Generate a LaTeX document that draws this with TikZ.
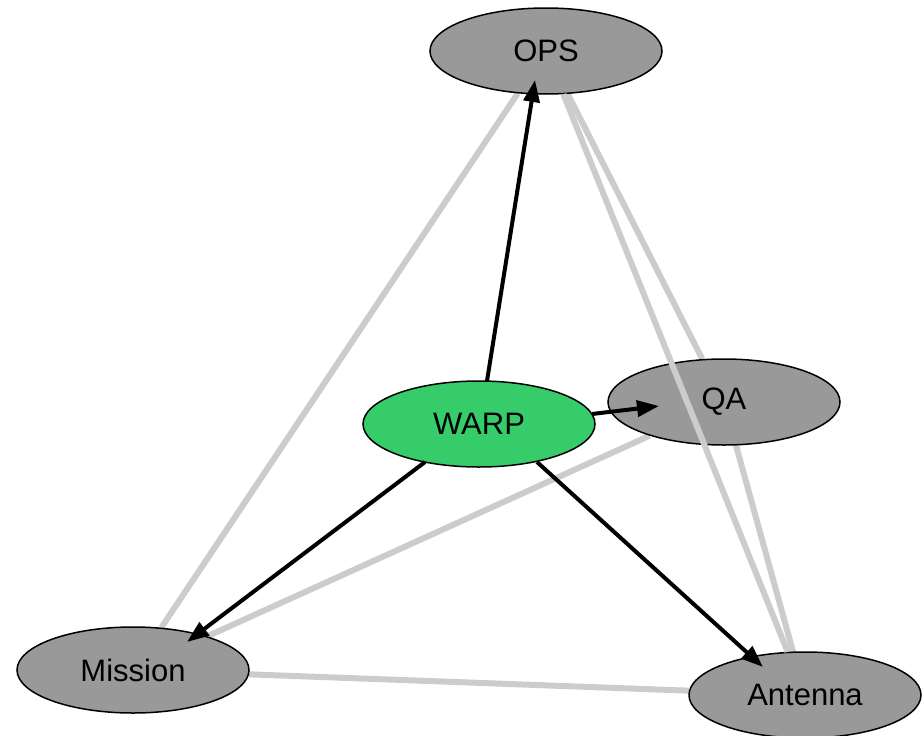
\documentclass[tikz,border=0pt]{standalone}
\usepackage{fontspec}
\setmainfont{Liberation Sans}
\usetikzlibrary{shapes.geometric,arrows.meta}
\pgfdeclarelayer{background}
\pgfsetlayers{background,main}
\definecolor{nodegray}{HTML}{999999}
\definecolor{warpgreen}{HTML}{36CC6A}
\definecolor{edgegray}{HTML}{CCCCCC}
\begin{document}
\begin{tikzpicture}[x=1pt,y=-1pt,
  vertex/.style={ellipse, draw=black, line width=1.5pt, fill=nodegray,
    minimum width=232pt, minimum height=86pt, inner sep=0pt,
    font=\fontsize{31}{36}\selectfont},
  link/.style={draw=edgegray, line width=6pt},
  flow/.style={draw=black, line width=4pt,
    -{Triangle[length=22pt,width=16pt]}}]
\useasboundingbox (0,0) rectangle (924,736);

% nodes
\node[vertex] (ops) at (546,51) {\raisebox{-3pt}{OPS}};
\node[vertex] (qa) at (724,402) {\raisebox{-2pt}{QA}};
\node[vertex, fill=warpgreen] (warp) at (479,424) {WARP};
\node[vertex] (mission) at (133,670) {\raisebox{-3pt}{Mission}};
\node[vertex] (antenna) at (805,695) {Antenna};

% undirected links behind the nodes
\begin{pgfonlayer}{background}
  \draw[link] (ops) -- (mission);
  \draw[link] (ops) -- (qa);
  \draw[link] (qa) -- (antenna);
  \draw[link] (qa) -- (mission);
  \draw[link] (mission) -- (antenna);
\end{pgfonlayer}

% this link runs across the QA node
\draw[link] (ops) -- (antenna);

% directed flows out of WARP
\draw[flow] ([shift={(8,-43)}]warp.center) -- ([shift={(-11,29)}]ops.center);
\draw[flow] ([shift={(113,-10)}]warp.center) -- ([shift={(-65,4)}]qa.center);
\draw[flow] ([shift={(-54,38)}]warp.center) -- ([shift={(54,-28)}]mission.center);
\draw[flow] ([shift={(58,38)}]warp.center) -- ([shift={(-42,-28)}]antenna.center);
\end{tikzpicture}
\end{document}
